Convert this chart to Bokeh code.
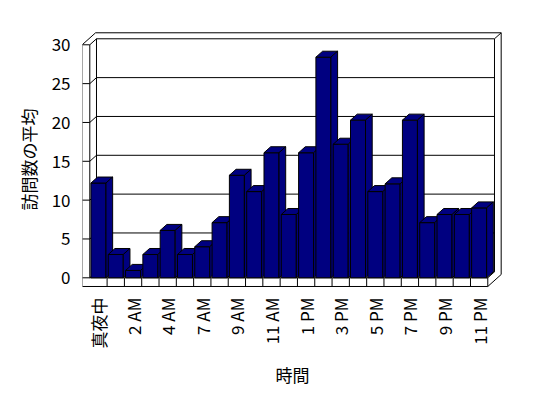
import math
from bokeh.plotting import figure
from bokeh.models import Range1d, FixedTicker
from bokeh.embed import file_html
from bokeh.resources import INLINE

# ---- data ----
hours = ["真夜中", "1 AM", "2 AM", "3 AM", "4 AM", "5 AM", "7 AM", "8 AM", "9 AM",
         "10 AM", "11 AM", "正午", "1 PM", "2 PM", "3 PM", "4 PM", "5 PM", "6 PM",
         "7 PM", "8 PM", "9 PM", "10 PM", "11 PM"]
visits = [12.2, 3.0, 0.95, 3.0, 6.1, 3.0, 4.0, 7.1, 13.2, 11.1, 16.1, 8.15,
          16.1, 28.4, 17.2, 20.3, 11.1, 12.1, 20.3, 7.1, 8.15, 8.15, 9.0]
y_ticks = [0, 5, 10, 15, 20, 25, 30]
x_title = "時間"
y_title = "訪問数の平均"

# ---- style / projection constants ----
FONT = "Noto Sans CJK JP"
BAR = "#000080"
n = len(hours)
VMAX = y_ticks[-1]
DU, DV = 0.387, 0.773   # one step of depth (data units)
LW = 0.44               # wall thickness (category units)
FT = 1.12               # floor thickness (value units)
BW = 0.867              # bar width (category units)

p = figure(width=540, height=390,
           x_range=Range1d(-0.922, 23.35), y_range=Range1d(-1.378, 31.84),
           output_backend="svg", toolbar_location=None,
           min_border_left=82, min_border_right=38,
           min_border_top=30, min_border_bottom=102)
p.outline_line_color = None
p.grid.visible = False
p.background_fill_color = "white"
p.border_fill_color = "white"

L = -0.5
R = n - 0.5
segs = []
def seg(x0, y0, x1, y1):
    segs.append(([x0, x1], [y0, y1]))

# back wall grid lines + left wall ticks
for v in y_ticks:
    seg(L + DU, v + DV, R + DU, v + DV)
    seg(L, v, L + DU, v + DV)
    seg(L - LW, v, L, v)
# verticals of walls
seg(L - LW, -FT, L - LW, VMAX)
seg(L, 0, L, VMAX)
seg(L + DU, DV, L + DU, VMAX + DV)
# top faces
seg(L - LW, VMAX, L - LW + 2 * DU, VMAX + 2 * DV)
seg(L - LW + 2 * DU, VMAX + 2 * DV, R + 2 * DU, VMAX + 2 * DV)
seg(R + DU, VMAX + DV, R + 2 * DU, VMAX + 2 * DV)
# right side of back wall
seg(R + DU, DV, R + DU, VMAX + DV)
seg(R + 2 * DU, -FT + 2 * DV, R + 2 * DU, VMAX + 2 * DV)
# floor
seg(L, 0, R, 0)
seg(L - LW, -FT, R, -FT)
seg(R, -FT, R, 0)
seg(R, 0, R + DU, DV)
seg(R, -FT, R + 2 * DU, -FT + 2 * DV)
for k in range(n - 1):
    seg(k + 0.5, -FT, k + 0.5, 0)

p.multi_line([s[0] for s in segs], [s[1] for s in segs], line_color="black", line_width=1)

# bars (front, top, side) drawn left to right
pxs, pys = [], []
for i, v in enumerate(visits):
    x0, x1 = i - BW / 2, i + BW / 2
    pxs.append([x0, x1, x1, x0]); pys.append([0, 0, v, v])
    pxs.append([x0, x1, x1 + DU, x0 + DU]); pys.append([v, v, v + DV, v + DV])
    pxs.append([x1, x1 + DU, x1 + DU, x1]); pys.append([0, DV, v + DV, v])
p.patches(pxs, pys, fill_color=BAR, line_color="black", line_width=1, line_join="miter")

# axes
ya = p.yaxis[0]
ya.ticker = FixedTicker(ticks=y_ticks)
ya.axis_line_color = None
ya.major_tick_in = 0
ya.major_tick_out = 0
ya.minor_tick_line_color = None
ya.major_label_standoff = 12
ya.axis_label = y_title
ya.axis_label_standoff = 8

xa = p.xaxis[0]
xa.ticker = FixedTicker(ticks=list(range(0, n, 2)))
xa.major_label_overrides = {i: hours[i] for i in range(0, n, 2)}
xa.major_label_orientation = math.pi / 2
xa.axis_line_color = None
xa.major_tick_in = 0
xa.major_tick_out = 0
xa.minor_tick_line_color = None
xa.major_label_standoff = 9
xa.axis_label = x_title
xa.axis_label_standoff = 11

for ax in (xa, ya):
    ax.major_label_text_font = FONT
    ax.major_label_text_font_size = "17px"
    ax.major_label_text_color = "black"
    ax.axis_label_text_font = FONT
    ax.axis_label_text_font_size = "17px"
    ax.axis_label_text_font_style = "normal"
    ax.axis_label_text_color = "black"

open("out.html", "w").write(file_html(p, INLINE))
